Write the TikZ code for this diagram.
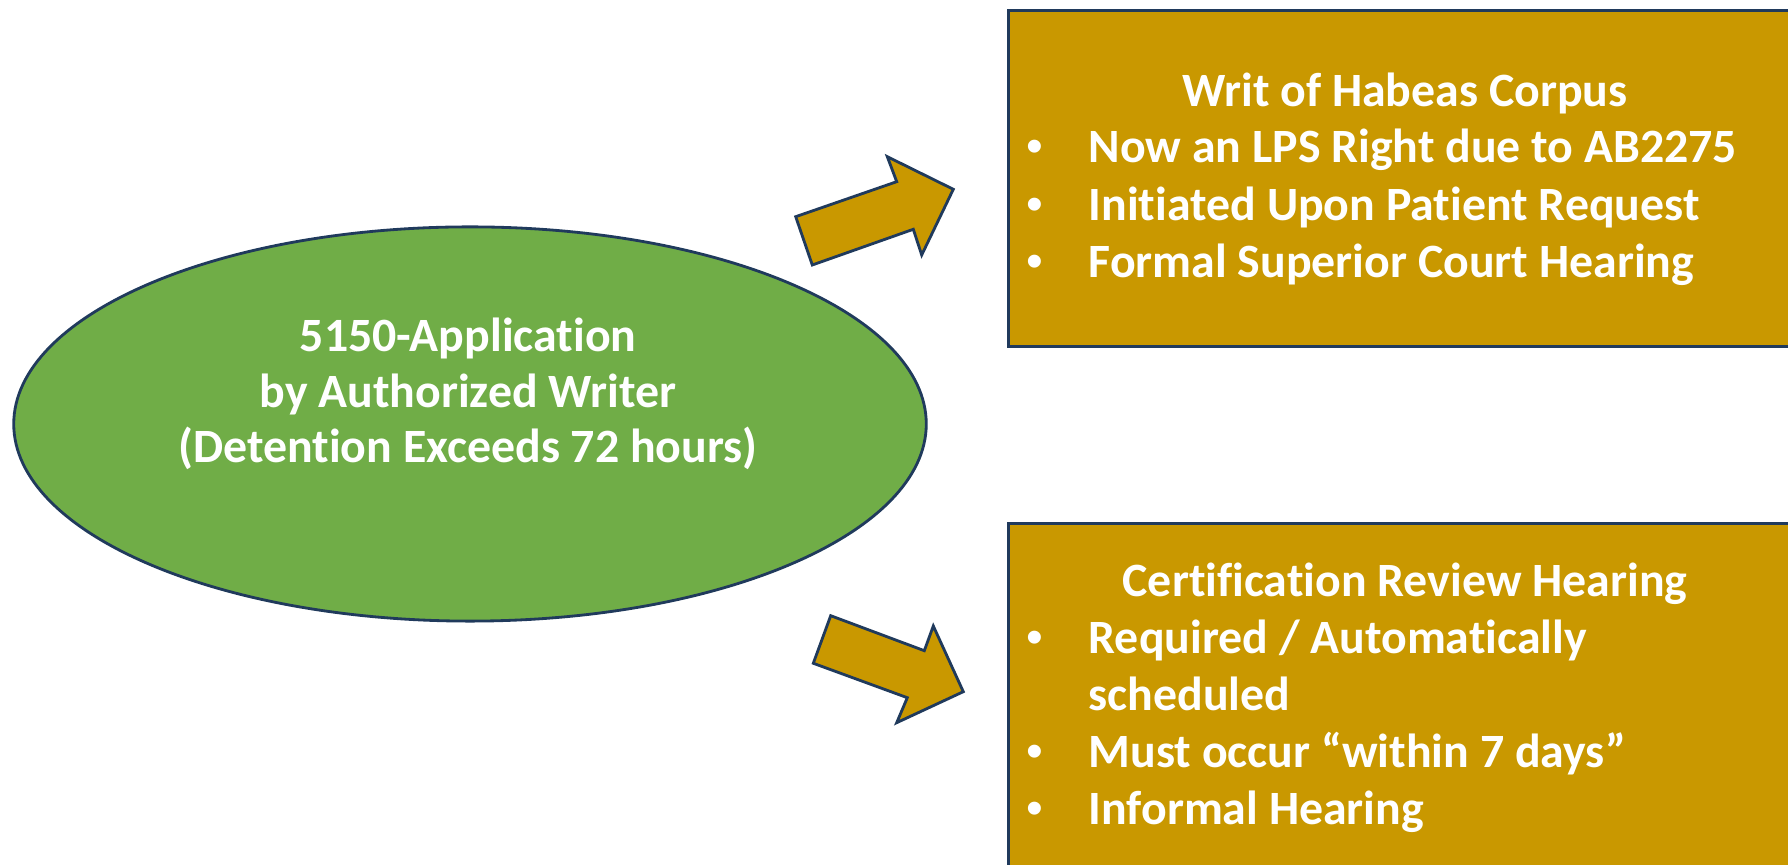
\documentclass[tikz,border=0pt]{standalone}
\usepackage{fontspec}
\setmainfont{Carlito}[Ligatures=NoCommon]
\newfontfamily\dotfont{Liberation Sans}
\usetikzlibrary{shapes.geometric}

\definecolor{leafgreen}{HTML}{70AD47}
\definecolor{mustard}{HTML}{C99800}
\definecolor{navyline}{HTML}{203A5C}

\tikzset{
  appellipse/.style={ellipse, draw=navyline, fill=leafgreen, line width=0.8pt,
    minimum width=9.12cm, minimum height=3.94cm, inner sep=0pt},
  infobox/.style={rectangle, draw=navyline, fill=mustard, line width=0.8pt,
    anchor=north west, inner sep=0pt},
  blockarrow/.style={draw=navyline, fill=mustard, line width=0.8pt, line join=miter},
  whitetext/.style={text=white, font=\bfseries\fontsize{13.6}{16}\selectfont,
    inner sep=0pt, anchor=base},
  bulletdot/.style={text=white, font=\dotfont\fontsize{13.6}{16}\selectfont,
    inner sep=0pt, anchor=base west},
  bullettext/.style={whitetext, anchor=base west}
}

\begin{document}
\begin{tikzpicture}[x=0.01cm, y=-0.01cm]

  \useasboundingbox (0,0) rectangle (1788,865);
  \clip (0,0) rectangle (1788,865);

  % application ellipse
  \node[appellipse] (app) at (470,424) {};
  \node[whitetext] (appline1) at (468,352) {5150-Application};
  \node[whitetext] (appline2) at (468,408) {by Authorized Writer};
  \node[whitetext] (appline3) at (468,463) {(Detention Exceeds 72 hours)};

  % block arrows
  \draw[blockarrow] (795.7,216.7) -- (896.7,181.7) -- (887.3,156.7)
    -- (953.3,189.3) -- (921.7,255) -- (913.3,229.3) -- (812.3,265) -- cycle;
  \draw[blockarrow] (830.7,615.7) -- (924.3,650.7) -- (933.3,626)
    -- (963.3,691.7) -- (896.7,722.7) -- (907.3,697.7) -- (813.3,663.3) -- cycle;

  % writ of habeas corpus
  \node[infobox, minimum width=9cm, minimum height=3.36cm] (writ) at (1007,9) {};
  \node[whitetext] (writtitle) at (1405,107) {Writ of Habeas Corpus};
  \node[bulletdot] (writdot1) at (1026,163) {•};
  \node[bullettext] (writline1) at (1088,163) {Now an LPS Right due to AB2275};
  \node[bulletdot] (writdot2) at (1026,221) {•};
  \node[bullettext] (writline2) at (1088,221) {Initiated Upon Patient Request};
  \node[bulletdot] (writdot3) at (1026,278) {•};
  \node[bullettext] (writline3) at (1088,278) {Formal Superior Court Hearing};

  % certification review hearing
  \node[infobox, minimum width=9cm, minimum height=4.5cm] (cert) at (1007,522) {};
  \node[whitetext] (certtitle) at (1405,597) {Certification Review Hearing};
  \node[bulletdot] (certdot1) at (1026,654) {•};
  \node[bullettext] (certline1) at (1088,654) {Required / Automatically};
  \node[bullettext] (certline1b) at (1088,711) {scheduled};
  \node[bulletdot] (certdot2) at (1026,768) {•};
  \node[bullettext] (certline2) at (1088,768) {Must occur “within 7 days”};
  \node[bulletdot] (certdot3) at (1026,825) {•};
  \node[bullettext] (certline3) at (1088,825) {Informal Hearing};

\end{tikzpicture}
\end{document}
